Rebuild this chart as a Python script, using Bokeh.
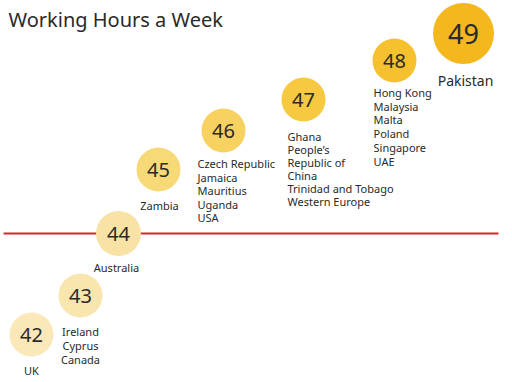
from bokeh.plotting import figure
from bokeh.models import Range1d, ColumnDataSource
from bokeh.core.properties import value
from bokeh.embed import file_html
from bokeh.resources import INLINE

# ---- data ----
title = "Working Hours a Week"
hours = [42, 43, 44, 45, 46, 47, 48, 49]
countries = [
    ["UK"],
    ["Ireland", "Cyprus", "Canada"],
    ["Australia"],
    ["Zambia"],
    ["Czech Republic", "Jamaica", "Mauritius", "Uganda", "USA"],
    ["Ghana", "People\u2019s", "Republic of", "China", "Trinidad and Tobago", "Western Europe"],
    ["Hong Kong", "Malaysia", "Malta", "Poland", "Singapore", "UAE"],
    ["Pakistan"],
]
reference_hours = 44  # red reference line

# ---- layout (infographic placement) ----
bubble_x = [31, 80, 118, 158, 223, 303, 394, 463]
bubble_y = [334, 295, 233, 169, 130, 99, 60, 33]
bubble_d = [44, 44, 45, 44, 44, 44, 44, 61]
label_dx = [0, 0, -2, 1, -26, -16, -21, 2]
label_dy = [36, 36, 34, 36, 33, 37, 32, 47]
label_align = ["center", "center", "center", "center", "left", "left", "left", "center"]
label_step = [13.8, 13.8, 13.8, 13.8, 13.5, 12.9, 13.7, 13.8]
number_size = ["20px"] * 7 + ["27px"]
label_size = ["11px"] * 7 + ["14px"]
bubble_colors = ["#fae8b9", "#f9e5ae", "#f8e2a5", "#f8d977", "#f7d260", "#f6c940", "#f5c12e", "#f4b81e"]

FONT = "Noto Sans"
TEXT = "#2a2a2a"

p = figure(width=512, height=382, x_range=Range1d(0, 512), y_range=Range1d(382, 0),
           output_backend="svg", toolbar_location=None, min_border=0,
           x_axis_location=None, y_axis_location=None)
p.grid.visible = False
p.outline_line_color = None
p.background_fill_color = "white"
p.border_fill_color = "white"

# red reference line at the 44-hour bubble level
ref_i = hours.index(reference_hours)
p.segment(x0=[3], y0=[bubble_y[ref_i]], x1=[498], y1=[bubble_y[ref_i]],
          line_color="#d7262e", line_width=2)

src = ColumnDataSource(dict(x=bubble_x, y=bubble_y, d=bubble_d, c=bubble_colors,
                            t=[str(h) for h in hours], fs=number_size))
p.scatter(x="x", y="y", size="d", fill_color="c", line_color=None, source=src)
p.text(x="x", y="y", text="t", text_font_size="fs", text_align="center",
       text_baseline="middle", text_color=TEXT, text_font=value(FONT), source=src)

lx, ly, lt, la, lf = [], [], [], [], []
for i, names in enumerate(countries):
    for j, name in enumerate(names):
        lx.append(bubble_x[i] + label_dx[i])
        ly.append(bubble_y[i] + label_dy[i] + j * label_step[i])
        lt.append(name)
        la.append(label_align[i])
        lf.append(label_size[i])
lsrc = ColumnDataSource(dict(x=lx, y=ly, t=lt, a=la, fs=lf))
p.text(x="x", y="y", text="t", text_align="a", text_baseline="middle",
       text_font_size="fs", text_color=TEXT, text_font=value(FONT), source=lsrc)

p.text(x=[8], y=[19], text=[title], text_align="left", text_baseline="middle",
       text_font_size="20px", text_color=TEXT, text_font=value(FONT))

open("out.html", "w").write(file_html(p, INLINE))
